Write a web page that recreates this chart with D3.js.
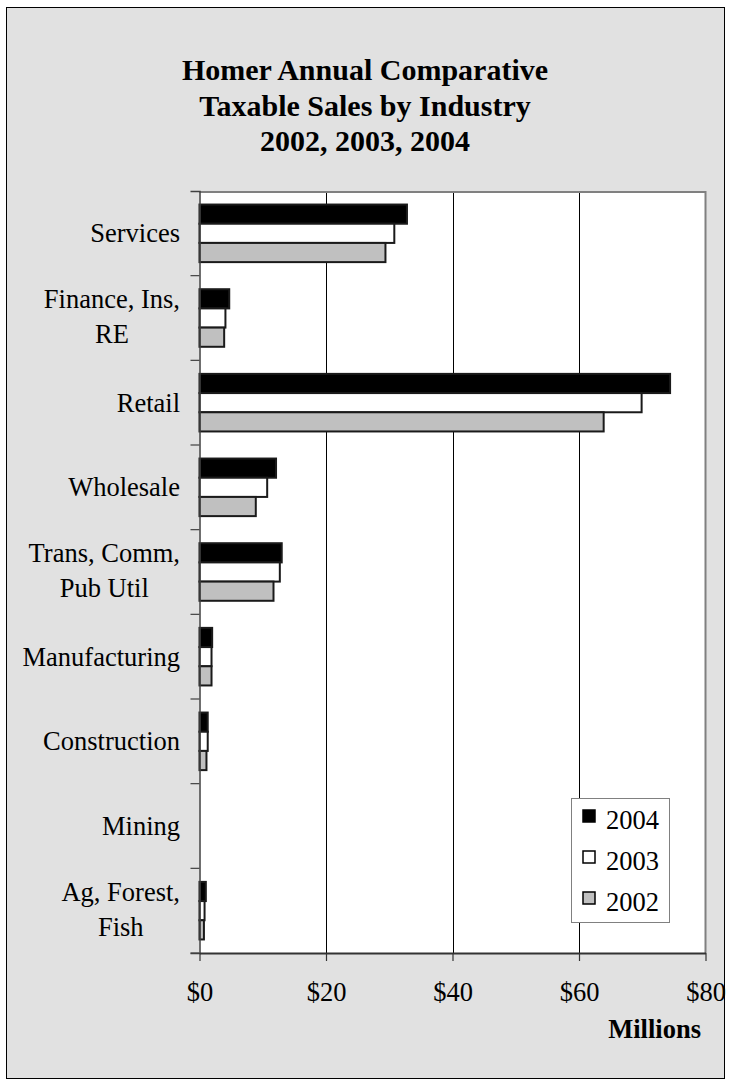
<!DOCTYPE html>
<html>
<head>
<meta charset="utf-8">
<script src="https://cdn.jsdelivr.net/npm/d3@7"></script>
<style>
  html, body { margin: 0; padding: 0; background: #ffffff; }
  svg { display: block; }
  text { font-family: "Liberation Serif", "Times New Roman", serif; fill: #000; }
</style>
</head>
<body>
<svg id="chart" width="731" height="1086"></svg>
<script>
// ---- data ----
const categories = ["Services", "Finance, Ins,|RE", "Retail", "Wholesale", "Trans, Comm,|Pub Util",
                    "Manufacturing", "Construction", "Mining", "Ag, Forest,|Fish"];
const seriesNames = ["2004", "2003", "2002"];
const values2004 = [32.8, 4.7, 74.4, 12.1, 13.0, 2.0, 1.3, 0, 1.0];
const values2003 = [30.8, 4.1, 69.9, 10.7, 12.7, 1.9, 1.3, 0, 0.8];
const values2002 = [29.4, 3.9, 63.9, 8.9, 11.7, 1.9, 1.1, 0, 0.7];
const xTicks = [0, 20, 40, 60, 80];
const titleLines = ["Homer Annual Comparative", "Taxable Sales by Industry", "2002, 2003, 2004"];
const axisTitle = "Millions";

const seriesValues = [values2004, values2003, values2002];
const fills = ["#000000", "#ffffff", "#c0c0c0"];

const svg = d3.select("#chart");
const W = 731, H = 1086;
const FS = "26.5px";

// background + outer frame
svg.append("rect").attr("x", 0).attr("y", 0).attr("width", W).attr("height", H).attr("fill", "#ffffff");
svg.append("rect").attr("x", 6.5).attr("y", 7.5).attr("width", 718).attr("height", 1071)
  .attr("fill", "#e1e1e1").attr("stroke", "#000").attr("stroke-width", 1);

// title
const title = svg.append("text").attr("text-anchor", "middle")
  .style("font-weight", "bold").style("font-size", "30px");
titleLines.forEach((t, i) => {
  title.append("tspan").attr("x", 365).attr("y", 80 + i * 35.5).text(t);
});

// plot area
const plot = { left: 199.5, right: 705.5, top: 191, bottom: 953 };
const x = d3.scaleLinear().domain([0, 80]).range([plot.left, plot.right]);
const y = d3.scaleBand().domain(categories).range([plot.top, plot.bottom]).paddingInner(0.32).paddingOuter(0.16);
const yBand = d3.scaleBand().domain(categories).range([plot.top, plot.bottom]);
const ySub = d3.scaleBand().domain(seriesNames).range([0, y.bandwidth()]);

svg.append("rect").attr("x", plot.left).attr("y", plot.top)
  .attr("width", plot.right - plot.left).attr("height", plot.bottom - plot.top)
  .attr("fill", "#ffffff");

// gridlines
svg.append("g").selectAll("line").data(xTicks.filter(d => d > 0 && d < 80)).join("line")
  .attr("x1", d => Math.round(x(d)) + 0.5).attr("x2", d => Math.round(x(d)) + 0.5)
  .attr("y1", plot.top).attr("y2", plot.bottom)
  .attr("stroke", "#000").attr("stroke-width", 1);

// top & right border (gray)
svg.append("path")
  .attr("d", `M${plot.left},${plot.top + 1} H${plot.right} V${plot.bottom}`)
  .attr("fill", "none").attr("stroke", "#808080").attr("stroke-width", 2);

// bars
const groups = svg.append("g").selectAll("g").data(categories).join("g")
  .attr("transform", d => `translate(0,${y(d)})`);
groups.selectAll("rect")
  .data((c, ci) => seriesNames.map((s, si) => ({ s, si, v: seriesValues[si][ci] })))
  .join("rect")
  .attr("x", x(0))
  .attr("y", d => ySub(d.s))
  .attr("width", d => x(d.v) - x(0))
  .attr("height", ySub.bandwidth())
  .attr("fill", d => fills[d.si])
  .attr("stroke", d => d.v > 0 ? "#1a1a1a" : "none")
  .attr("stroke-width", 2);

// y axis
const yAxis = d3.axisLeft(yBand).tickSize(9).tickFormat("");
const gy = svg.append("g").attr("transform", `translate(${plot.left},0)`).call(yAxis);
gy.select(".domain").attr("stroke", "#404040").attr("stroke-width", 1.5);
gy.selectAll(".tick line").attr("stroke", "#404040").attr("stroke-width", 1.2)
  .attr("transform", `translate(0,${yBand.bandwidth() / 2})`);

// category labels
const labelRight = 180;
const labels = svg.append("g").selectAll("text").data(categories).join("text")
  .style("font-size", FS);
labels.each(function (d) {
  const lines = d.split("|");
  const t = d3.select(this);
  const cy = yBand(d) + yBand.bandwidth() / 2;
  if (lines.length === 1) {
    t.attr("text-anchor", "end").attr("x", labelRight).attr("y", cy + 9).text(lines[0]);
  } else {
    const spans = lines.map((ln, i) => t.append("tspan").attr("y", cy - 10 + i * 35).text(ln));
    let maxW = 0;
    spans.forEach(s => { maxW = Math.max(maxW, s.node().getComputedTextLength()); });
    t.attr("text-anchor", "middle");
    spans.forEach(s => s.attr("x", labelRight - maxW / 2));
  }
});

// x axis
const xAxis = d3.axisBottom(x).tickValues(xTicks).tickSize(8).tickSizeOuter(0).tickFormat(d => "$" + d);
const gx = svg.append("g").attr("transform", `translate(0,${plot.bottom})`).call(xAxis);
gx.select(".domain").attr("stroke", "#333").attr("stroke-width", 2);
gx.selectAll(".tick line").attr("stroke", "#333").attr("stroke-width", 1.2);
gx.selectAll(".tick text").attr("y", 0).attr("dy", 0)
  .attr("transform", "translate(0,48)")
  .style("font-size", FS).style("font-family", "'Liberation Serif', serif").attr("fill", "#000");

// axis title
svg.append("text").attr("x", 701).attr("y", 1038).attr("text-anchor", "end")
  .style("font-size", FS).style("font-weight", "bold").text(axisTitle);

// legend
const lg = svg.append("g");
lg.append("rect").attr("x", 571.5).attr("y", 798.5).attr("width", 98).attr("height", 124)
  .attr("fill", "#ffffff").attr("stroke", "#808080").attr("stroke-width", 1);
seriesNames.forEach((s, i) => {
  const yy = 829 + i * 41;
  lg.append("rect").attr("x", 583).attr("y", yy - 19).attr("width", 12).attr("height", 12)
    .attr("fill", fills[i]).attr("stroke", "#000").attr("stroke-width", 1.5);
  lg.append("text").attr("x", 606).attr("y", yy).style("font-size", FS).text(s);
});
</script>
</body>
</html>
